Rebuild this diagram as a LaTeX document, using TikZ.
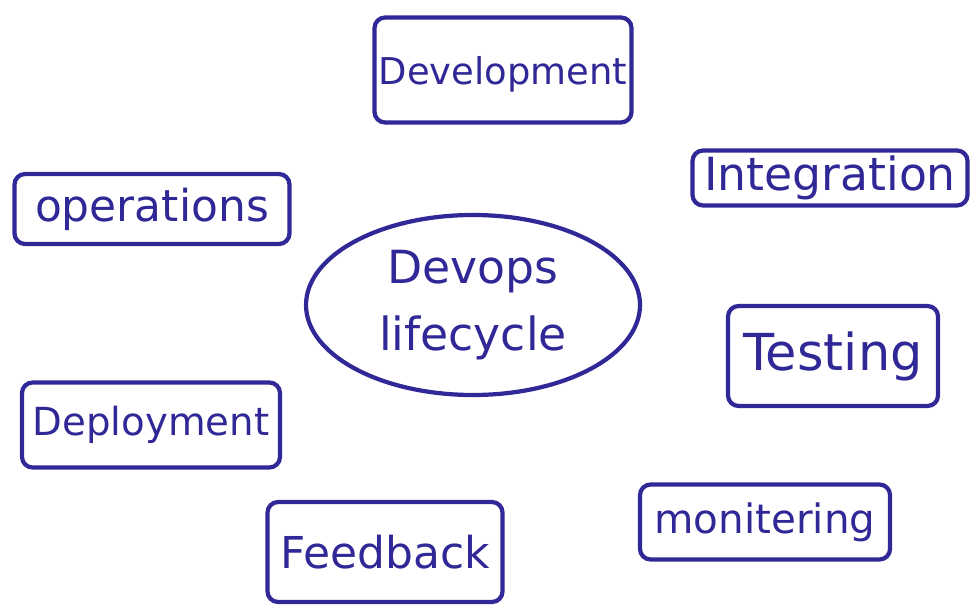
\documentclass[tikz,border=0pt]{standalone}
\usepackage{fontspec}
\setmainfont{DejaVu Sans}
\usetikzlibrary{shapes.geometric}
\newcommand{\inksize}[1]{\fontsize{#1}{#1}\selectfont}
\begin{document}
\begin{tikzpicture}[x=1cm,y=-1cm,
  ink/.style={draw=inkblue, line width=1.2pt},
  stage/.style={ink, rectangle, rounded corners=3pt, inner sep=0pt, text=inkblue},
  hub/.style={ink, ellipse, inner sep=0pt, text=inkblue, align=center}]
\definecolor{inkblue}{RGB}{48,40,150}
\useasboundingbox[fill=white] (0,0) rectangle (9.71,6.10);
% central cycle
\node[hub, minimum width=3.34cm, minimum height=1.8cm,
      font=\fontsize{13}{19}\selectfont] (core) at (4.73,3.05) {Devops\\lifecycle};
% stages round the cycle
\node[stage, minimum width=2.57cm, minimum height=1.05cm, font=\inksize{10.5},
      text depth=-0.12cm] (dev)  at (5.03,0.70) {Development};
\node[stage, minimum width=2.75cm, minimum height=0.55cm, font=\inksize{13}] (int)  at (8.30,1.78) {Integration};
\node[stage, minimum width=2.75cm, minimum height=0.70cm, font=\inksize{12.5}] (ops)  at (1.52,2.09) {operations};
\node[stage, minimum width=2.10cm, minimum height=1.00cm, font=\inksize{14.5}] (test) at (8.33,3.56) {Testing};
\node[stage, minimum width=2.58cm, minimum height=0.85cm, font=\inksize{11}] (dep)  at (1.51,4.25) {Deployment};
\node[stage, minimum width=2.35cm, minimum height=1.00cm, font=\inksize{12.5}] (fb)   at (3.85,5.52) {Feedback};
\node[stage, minimum width=2.50cm, minimum height=0.75cm, font=\inksize{11.5}] (mon)  at (7.65,5.22) {monitering};
\end{tikzpicture}
\end{document}
